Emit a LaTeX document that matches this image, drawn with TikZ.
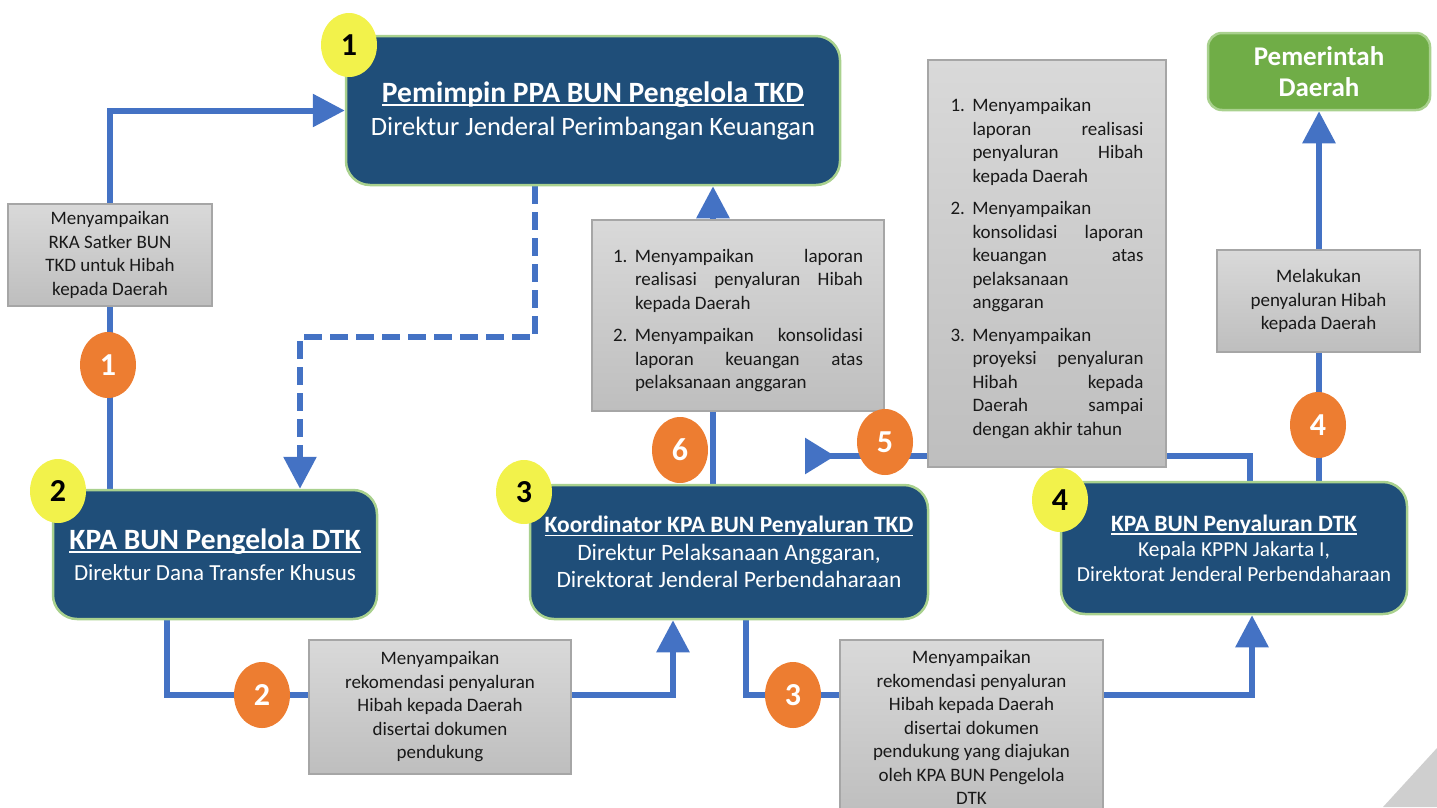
\documentclass[tikz,border=0pt]{standalone}
\usepackage{fontspec}
\setmainfont{Carlito}
\usetikzlibrary{positioning,shapes.geometric,arrows.meta,backgrounds}

\definecolor{boxblue}{HTML}{1F4E79}
\definecolor{boxedge}{HTML}{A9D18E}
\definecolor{lineblue}{HTML}{4472C4}
\definecolor{numorange}{HTML}{ED7D31}
\definecolor{numyellow}{HTML}{F2F24B}
\definecolor{pemdagreen}{HTML}{70AD47}
\definecolor{notetop}{HTML}{D9D9D9}
\definecolor{notebot}{HTML}{BEBEBE}
\definecolor{noteedge}{HTML}{A6A6A6}

% judul bergaris bawah
\newcommand{\judul}[1]{\setbox0\hbox{#1}\rlap{\rule[-3.5pt]{\wd0}{1.6pt}}\box0}
% butir daftar bernomor
\newcommand{\butir}[2]{\par\hangindent=22pt\hangafter=1\noindent\makebox[22pt][l]{#1}#2\par}

\begin{document}
\hyphenpenalty=10000
\tolerance=10000
\begin{tikzpicture}[x=1pt,y=-1pt,
    pejabat/.style={draw=boxedge,line width=2.5pt,fill=boxblue,rounded corners=24pt,text=white,align=center,inner sep=0pt},
    catatan/.style={draw=noteedge,line width=1.5pt,top color=notetop,bottom color=notebot,text=black!90,inner sep=0pt,
        font=\fontsize{19}{23.5}\selectfont},
    urutan/.style={ellipse,fill=numorange,text=white,minimum width=56pt,minimum height=66pt,inner sep=0pt,font=\fontsize{32}{32}\selectfont\bfseries},
    langkah/.style={ellipse,fill=numyellow,text=black,minimum width=56pt,minimum height=64pt,inner sep=0pt,font=\fontsize{32}{32}\selectfont\bfseries},
    alur/.style={lineblue,line width=6pt},
    panah/.style={alur,-{Triangle[length=32pt,width=32pt]}}]
  \useasboundingbox (0,0) rectangle (1437,807);
  \fill[black!19] (1437,748) -- (1383,807) -- (1437,807) -- cycle;

  % kotak pejabat
  \node[pejabat,minimum width=494pt,minimum height=149pt,font=\fontsize{26.5}{33}\selectfont] (ppa) at (593,110.5)
    {{\fontsize{29.5}{33}\selectfont\bfseries\judul{Pemimpin PPA BUN Pengelola TKD}}\\Direktur Jenderal Perimbangan Keuangan};
  \node[pejabat,minimum width=324pt,minimum height=129pt,font=\fontsize{23}{31}\selectfont] (kpa) at (215,554.5)
    {{\fontsize{29.5}{31}\selectfont\bfseries\judul{KPA BUN Pengelola DTK}}\\Direktur Dana Transfer Khusus};
  \node[pejabat,minimum width=398pt,minimum height=134pt,font=\fontsize{23.5}{27.5}\selectfont] (koor) at (729,552)
    {{\bfseries\judul{Koordinator KPA BUN Penyaluran TKD}}\\Direktur Pelaksanaan Anggaran,\\Direktorat Jenderal Perbendaharaan};
  \node[pejabat,minimum width=346pt,minimum height=132pt,font=\fontsize{21.4}{25}\selectfont] (dtk) at (1234,548)
    {{\fontsize{23.5}{25}\selectfont\bfseries\judul{KPA BUN Penyaluran DTK}}\\Kepala KPPN Jakarta I,\\Direktorat Jenderal Perbendaharaan};
  \node[pejabat,fill=pemdagreen,rounded corners=14pt,minimum width=222pt,minimum height=77pt,font=\fontsize{27}{31}\selectfont\bfseries] (pemda) at (1319,71.5)
    {Pemerintah\\Daerah};

  % kotak keterangan
  \node[catatan,align=center,minimum width=204pt,minimum height=102pt] (rka) at (110,255)
    {Menyampaikan\\RKA Satker BUN\\TKD untuk Hibah\\kepada Daerah};
  \node[catatan,align=center,minimum width=262pt,minimum height=134pt] (rek2) at (440,707)
    {Menyampaikan\\rekomendasi penyaluran\\Hibah kepada Daerah\\disertai dokumen\\pendukung};
  \node[catatan,align=center,minimum width=263pt,minimum height=175pt] (rek3) at (971.5,727.5)
    {Menyampaikan\\rekomendasi penyaluran\\Hibah kepada Daerah\\disertai dokumen\\pendukung yang diajukan\\oleh KPA BUN Pengelola\\DTK};
  \node[catatan,align=center,minimum width=203pt,minimum height=102pt] (salur) at (1318.5,301)
    {Melakukan\\penyaluran Hibah\\kepada Daerah};
  \node[catatan,align=justify,text width=250pt,inner xsep=21pt,minimum height=191pt] (lap6) at (738,315.5)
    {\butir{1.}{Menyampaikan laporan\linebreak realisasi penyaluran Hibah\linebreak kepada Daerah}
     \vspace{9pt}
     \butir{2.}{Menyampaikan konsolidasi\linebreak laporan keuangan atas\linebreak pelaksanaan anggaran}};
  \node[catatan,align=justify,text width=193pt,inner xsep=22.5pt,minimum height=407pt] (lap5) at (1047,263.5)
    {\butir{1.}{Menyampaikan\linebreak laporan realisasi\linebreak penyaluran Hibah\linebreak kepada Daerah}
     \vspace{9pt}
     \butir{2.}{Menyampaikan\linebreak konsolidasi laporan\linebreak keuangan atas\linebreak pelaksanaan\linebreak anggaran}
     \vspace{9pt}
     \butir{3.}{Menyampaikan\linebreak proyeksi penyaluran\linebreak Hibah kepada\linebreak Daerah sampai\linebreak dengan akhir tahun}};

  % nomor urut alur
  \node[urutan] (o1) at (108,365) {1};
  \node[urutan] (o2) at (262,695) {2};
  \node[urutan] (o3) at (793,695) {3};
  \node[urutan] (o4) at (1318,425) {4};
  \node[urutan] (o5) at (885,442) {5};
  \node[urutan] (o6) at (680,450) {6};

  % nomor pejabat
  \node[langkah] (y1) at (349,45) {1};
  \node[langkah] (y2) at (58,491) {2};
  \node[langkah] (y3) at (524,492) {3};
  \node[langkah] (y4) at (1060,500) {4};

  % titik belok
  \coordinate (d1) at (535,337);
  \coordinate (d2) at (300,337);
  \coordinate (k2a) at (167,695);
  \coordinate (k2b) at (673,695);
  \coordinate (k3a) at (746,695);
  \coordinate (k3b) at (1252,695);
  \coordinate (k6) at (713,0);
  \coordinate (k5a) at (1250,456);
  \coordinate (k5b) at (805,456);

  \begin{pgfonlayer}{background}
    \draw[alur] (kpa.north -| rka.south) -- (rka.south);
    \draw[panah] (rka.north) |- (ppa.west);
    \draw[panah,dash pattern=on 18pt off 8pt] (ppa.south -| d1) -- (d1) -- (d2) -- (kpa.north -| d2);
    \draw[panah] (kpa.south -| k2a) -- (k2a) -- (k2b) -- (koor.south -| k2b);
    \draw[panah] (koor.south -| k3a) -- (k3a) -- (k3b) -- (dtk.south -| k3b);
    \draw[alur] (koor.north -| k6) -- (lap6.south -| k6);
    \draw[panah] (lap6.north -| k6) -- (ppa.south -| k6);
    \draw[alur,-{Triangle[reversed,length=30pt,width=35pt]}] (dtk.north -| k5a) -- (k5a) -- (k5b);
    \draw[panah] (dtk.north -| pemda.south) -- (pemda.south);
  \end{pgfonlayer}
\end{tikzpicture}
\end{document}
